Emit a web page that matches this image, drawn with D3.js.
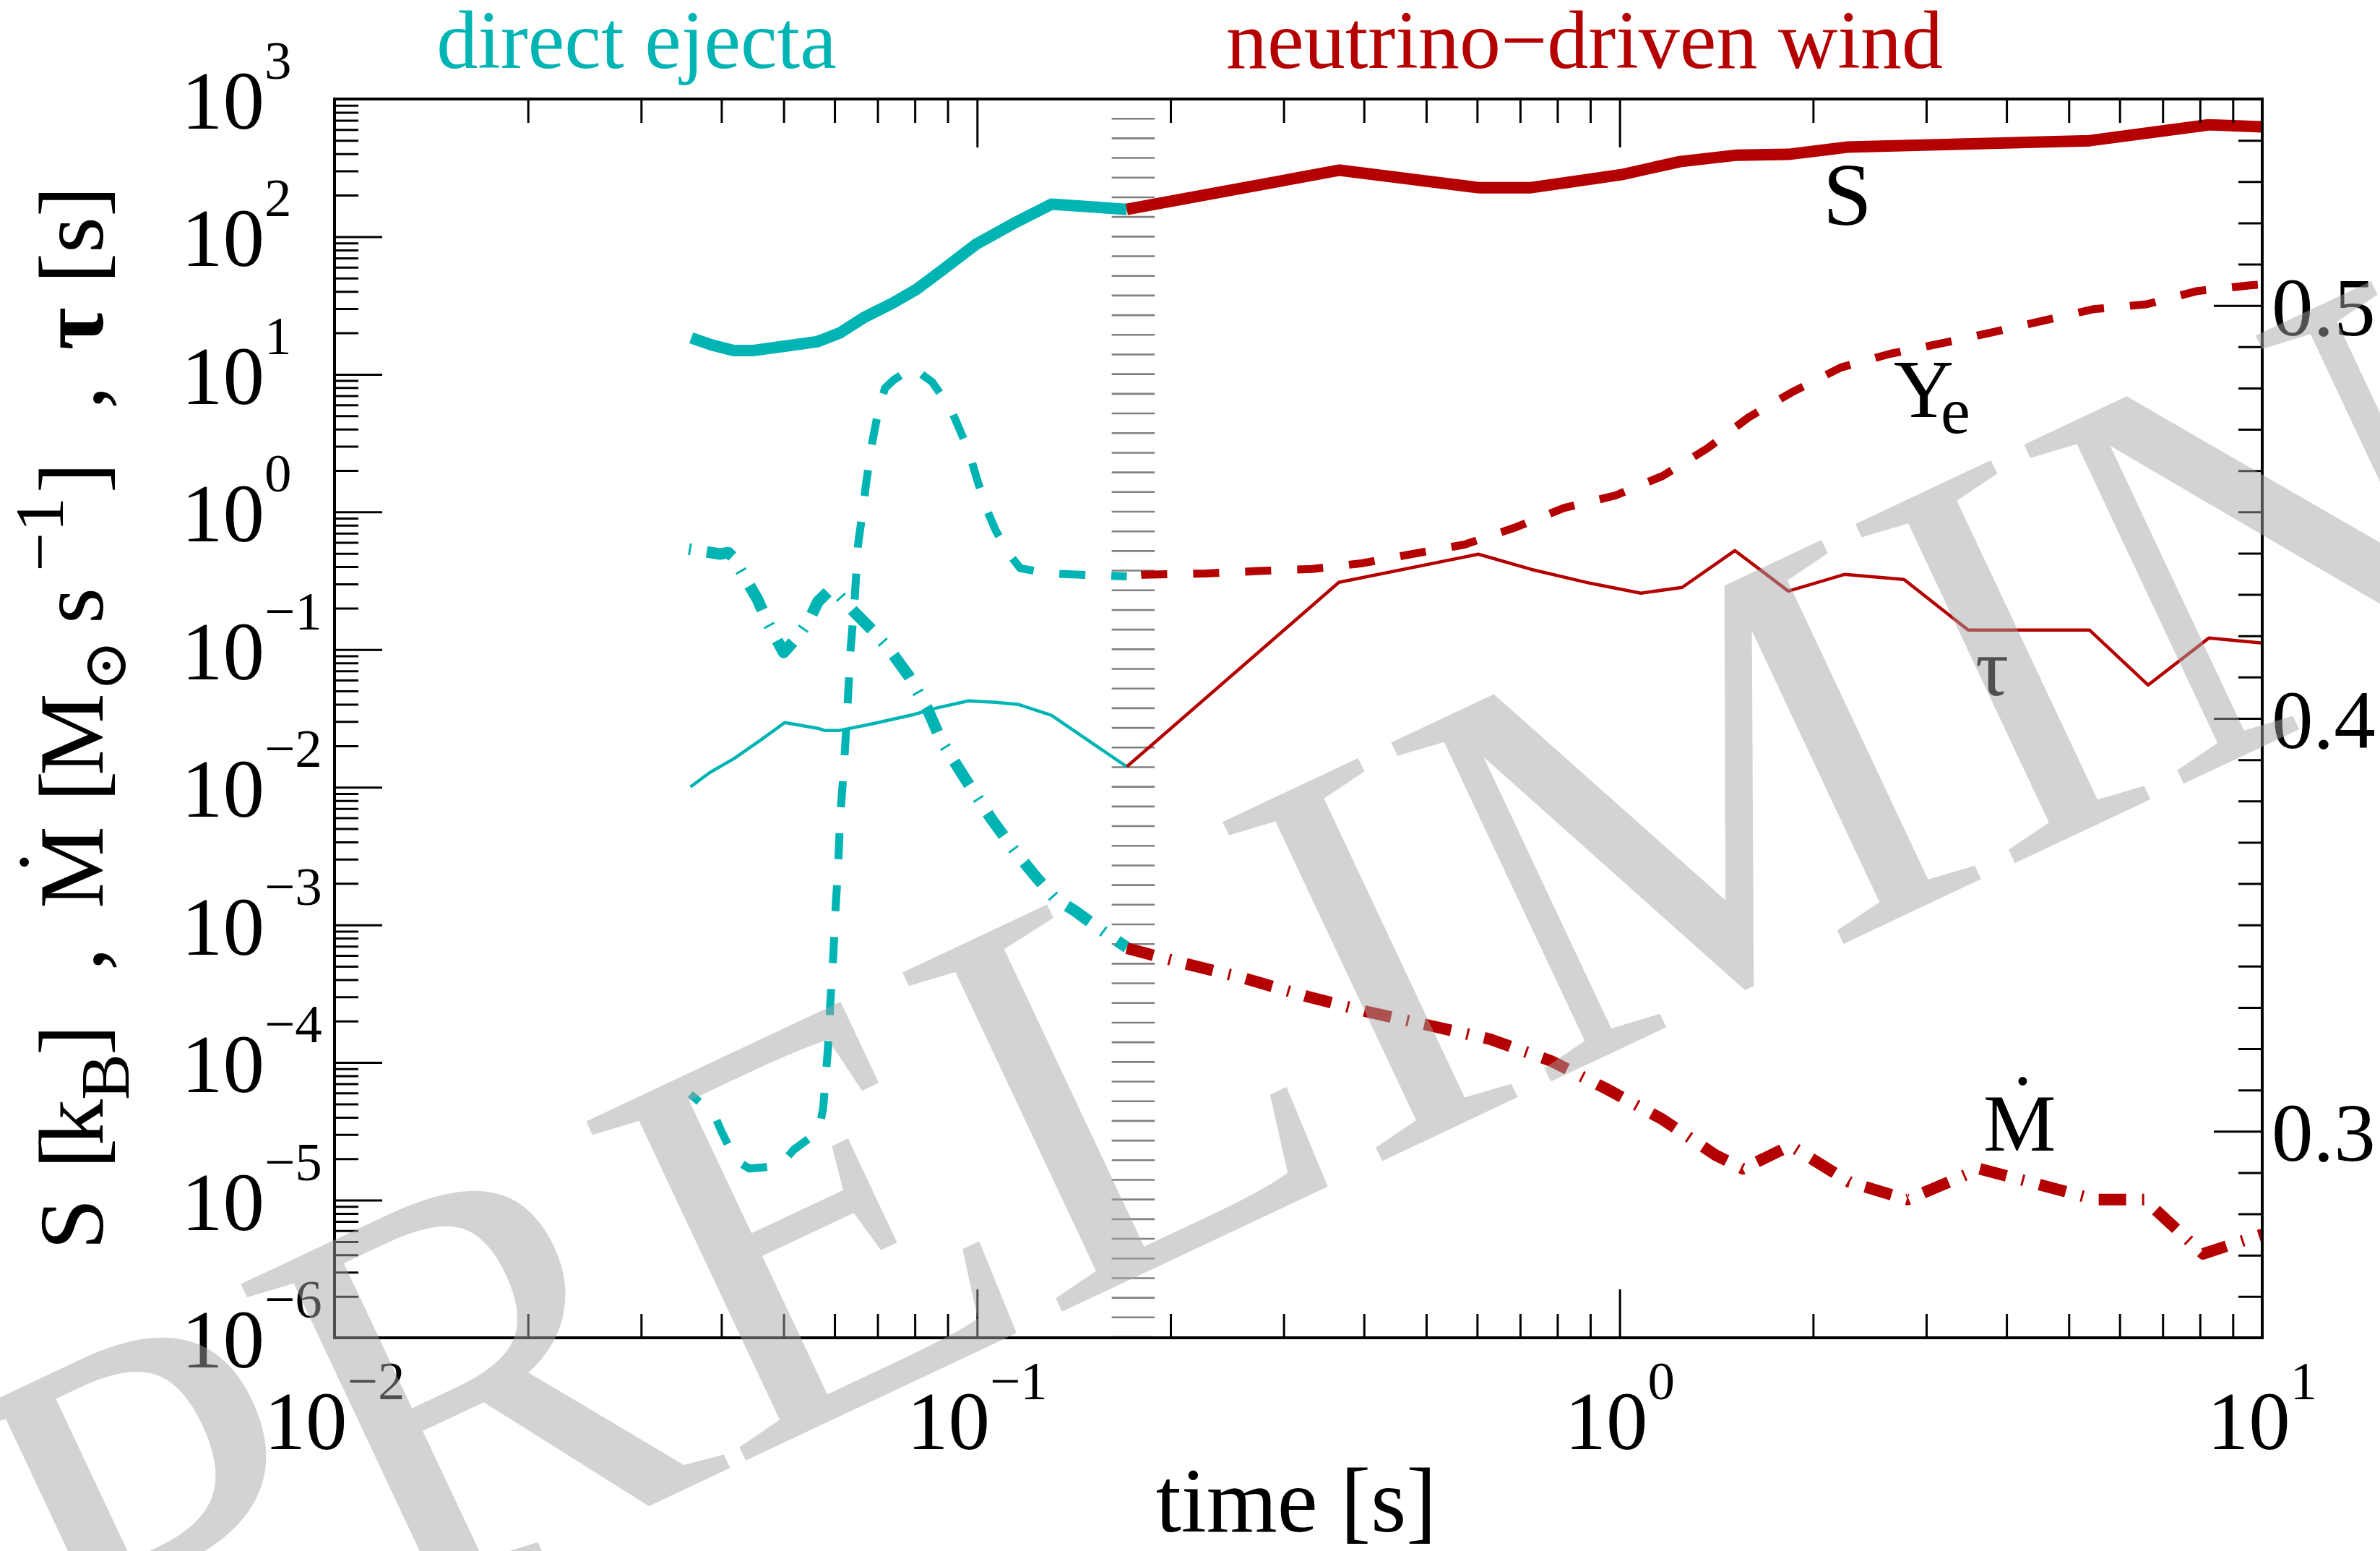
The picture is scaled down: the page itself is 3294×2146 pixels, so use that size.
<!DOCTYPE html>
<html>
<head>
<meta charset="utf-8">
<script src="https://cdn.jsdelivr.net/npm/d3@7"></script>
<style>
  html, body { margin: 0; padding: 0; background: #fff; }
  svg { display: block; }
  text { font-family: "Liberation Serif", "Times New Roman", "DejaVu Serif", serif; }
</style>
</head>
<body>
<svg id="chart" width="3294" height="2146"></svg>
<script>
// ---------------- data ----------------
// direct ejecta phase (t < ~0.17 s)
const ejectaTimeS   = [0.0359, 0.0387, 0.0418, 0.0449, 0.0497, 0.0565, 0.0612, 0.0669, 0.0738, 0.0804, 0.0889, 0.0994, 0.1137, 0.1305, 0.171];
const ejectaEntropy = [18.4, 16.3, 14.9, 14.9, 15.9, 17.3, 20.0, 26.1, 32.8, 41.3, 58.6, 87.4, 124, 172, 158];

const ejectaTimeYe  = [0.0358, 0.0390, 0.0400, 0.0421, 0.0442, 0.0493, 0.0518, 0.0567, 0.0576, 0.0586, 0.0591, 0.0597, 0.0602, 0.0608, 0.0612, 0.0621, 0.0629, 0.0635, 0.0645, 0.0652, 0.0662, 0.0672, 0.0685, 0.0703, 0.0719, 0.0742, 0.0796, 0.0825, 0.0851, 0.0910, 0.0969, 0.1004, 0.1036, 0.1069, 0.1123, 0.1167, 0.1288, 0.1551, 0.171];
const ejectaYe      = [0.309, 0.304, 0.300, 0.293, 0.291, 0.2916, 0.2955, 0.300, 0.3056, 0.320, 0.331, 0.342, 0.3535, 0.3647, 0.3757, 0.389, 0.404, 0.416, 0.429, 0.4415, 0.449, 0.457, 0.466, 0.475, 0.480, 0.482, 0.485, 0.483, 0.4815, 0.475, 0.465, 0.457, 0.4505, 0.4455, 0.4397, 0.4364, 0.4351, 0.4346, 0.4344];

const ejectaTimeTau = [0.0358, 0.0384, 0.0418, 0.0461, 0.0502, 0.0565, 0.0580, 0.0609, 0.0685, 0.0796, 0.0862, 0.0969, 0.1069, 0.1161, 0.1305, 0.171];
const ejectaTau     = [0.01005, 0.0128, 0.0161, 0.0221, 0.0295, 0.0268, 0.0258, 0.0258, 0.0288, 0.0337, 0.0375, 0.0424, 0.0414, 0.0399, 0.0333, 0.0141];

const ejectaTimeMdot = [0.0356, 0.0398, 0.0410, 0.0418, 0.0431, 0.0455, 0.0473, 0.0500, 0.0526, 0.0548, 0.0565, 0.0591, 0.0609, 0.0642, 0.0685, 0.0732, 0.0782, 0.0836, 0.0878, 0.0954, 0.1052, 0.1143, 0.1242, 0.1325, 0.1418, 0.1589, 0.171];
const ejectaMdot     = [0.537, 0.494, 0.506, 0.4645, 0.360, 0.233, 0.1545, 0.0953, 0.1243, 0.1642, 0.222, 0.273, 0.251, 0.190, 0.140, 0.0988, 0.0647, 0.0375, 0.0221, 0.0119, 0.0059, 0.00347, 0.00216, 0.00154, 0.00127, 0.000863, 0.000686];

// neutrino-driven wind phase (t > ~0.17 s)
const windTimeS   = [0.171, 0.3665, 0.6026, 0.7279, 1.006, 1.241, 1.522, 1.830, 2.257, 5.387, 8.26, 10];
const windEntropy = [158, 304, 227, 227, 282, 351, 391, 396, 447, 498, 650, 627];

const windTimeYe = [0.171, 0.1813, 0.2270, 0.2744, 0.3322, 0.3982, 0.4786, 0.5737, 0.6896, 0.8203, 0.9856, 1.166, 1.369, 1.587, 1.854, 2.211, 2.636, 3.185, 3.798, 4.553, 5.458, 6.610, 7.925, 9.572, 10];
const windYe     = [0.4344, 0.4348, 0.4351, 0.4357, 0.4362, 0.4376, 0.4399, 0.4421, 0.4463, 0.4510, 0.4540, 0.4587, 0.4654, 0.4729, 0.4790, 0.4850, 0.4883, 0.4909, 0.4935, 0.4963, 0.4991, 0.5003, 0.5035, 0.5049, 0.5051];

const windTimeTau = [0.171, 0.3656, 0.6026, 0.7279, 0.8979, 1.079, 1.251, 1.511, 1.830, 2.240, 2.770, 3.487, 5.387, 6.645, 8.26, 10];
const windTau     = [0.0141, 0.308, 0.4935, 0.383, 0.304, 0.257, 0.283, 0.524, 0.266, 0.352, 0.323, 0.1386, 0.1386, 0.0553, 0.1213, 0.1115];

const windTimeMdot = [0.171, 0.2101, 0.2611, 0.3271, 0.4045, 0.5053, 0.6281, 0.7807, 0.9507, 1.166, 1.409, 1.554, 1.844, 2.280, 2.806, 3.635, 5.501, 6.558, 8.090, 10];
const windMdot     = [6.77e-4, 5.25e-4, 4.08e-4, 3.01e-4, 2.34e-4, 1.86e-4, 1.48e-4, 1.03e-4, 6.49e-5, 3.86e-5, 2.13e-5, 1.69e-5, 2.49e-5, 1.35e-5, 1.01e-5, 1.69e-5, 1.01e-5, 1.01e-5, 4.07e-6, 5.64e-6];

// transition window between the two phases (s)
const transitionBand = [0.162, 0.189];

// tick labels
const xTickExponents = [-2, -1, 0, 1];
const yTickExponents = [-6, -5, -4, -3, -2, -1, 0, 1, 2, 3];
const yeTickValues = [0.3, 0.4, 0.5];
const yeTickLabels = ["0.3", "0.4", "0.5"];

// ---------------- layout ----------------
const W = 3294, H = 2146;
const frame = { left: 463, right: 3131, top: 137, bottom: 1851 };
const cyan = "#00b4b4", red = "#b40000";

const x  = d3.scaleLog().domain([0.01, 10]).range([frame.left, frame.right]);
const yL = d3.scaleLog().domain([1e-6, 1e3]).range([frame.bottom, frame.top]);
const yR = d3.scaleLinear().domain([0.25, 0.55]).range([frame.bottom, frame.top]);

const svg = d3.select("#chart");
svg.append("rect").attr("width", W).attr("height", H).attr("fill", "#fff");

// ---------------- transition ladder ----------------
const nRungs = 64;
const rungY = d3.range(nRungs).map(k => frame.bottom - 1 - k * (frame.bottom - frame.top - 1) / (nRungs - 1));
svg.append("g").selectAll("line").data(rungY).join("line")
  .attr("x1", x(transitionBand[0])).attr("x2", x(transitionBand[1]))
  .attr("y1", d => d).attr("y2", d => d)
  .attr("stroke", "#808080").attr("stroke-width", 2.6);

// ---------------- curves ----------------
const zip = (a, b) => a.map((t, i) => [t, b[i]]);
const series = [
  { t: ejectaTimeS,    v: ejectaEntropy, y: yL, color: cyan, width: 16, dash: null },
  { t: windTimeS,      v: windEntropy,   y: yL, color: red,  width: 16, dash: null },
  { t: ejectaTimeTau,  v: ejectaTau,     y: yL, color: cyan, width: 4.5, dash: null },
  { t: windTimeTau,    v: windTau,       y: yL, color: red,  width: 4.5, dash: null },
  { t: ejectaTimeYe,   v: ejectaYe,      y: yR, color: cyan, width: 11, dash: "36,36", offset: 20 },
  { t: windTimeYe,     v: windYe,        y: yR, color: red,  width: 11, dash: "36,36", offset: 52 },
  { t: ejectaTimeMdot, v: ejectaMdot,    y: yL, color: cyan, width: 16, dash: "38,22,3,22", offset: 60 },
  { t: windTimeMdot,   v: windMdot,      y: yL, color: red,  width: 16, dash: "38,22,3,22", offset: 0 }
];
const gCurves = svg.append("g").attr("fill", "none");
series.forEach(s => {
  const line = d3.line().x(d => x(d[0])).y(d => s.y(d[1]));
  gCurves.append("path")
    .attr("d", line(zip(s.t, s.v)))
    .attr("stroke", s.color)
    .attr("stroke-width", s.width)
    .attr("stroke-linejoin", "round")
    .attr("stroke-linecap", "butt")
    .attr("stroke-dasharray", s.dash)
    .attr("stroke-dashoffset", s.offset || 0);
});

// ---------------- ticks ----------------
const isDecade = v => Math.abs(Math.log10(v) - Math.round(Math.log10(v))) < 1e-6;
const xMajor = x.ticks().filter(isDecade), xMinor = x.ticks().filter(v => !isDecade(v));
const yMajor = yL.ticks().filter(isDecade), yMinor = yL.ticks().filter(v => !isDecade(v));
const yeAll = d3.range(26, 55).map(k => k / 100);
const yeMinor = yeAll.filter(v => !yeTickValues.some(m => Math.abs(m - v) < 1e-6));

function ticks(axisFn, scale, values, size, tx, ty) {
  svg.append("g").attr("transform", `translate(${tx},${ty})`)
    .call(axisFn(scale).tickValues(values).tickSizeInner(size).tickSizeOuter(0).tickFormat(""))
    .call(g => g.select(".domain").remove())
    .call(g => g.selectAll("line").attr("stroke", "#000").attr("stroke-width", 3));
}
ticks(d3.axisBottom, x, xMajor, -67, 0, frame.bottom);
ticks(d3.axisBottom, x, xMinor, -33, 0, frame.bottom);
ticks(d3.axisTop, x, xMajor, -67, 0, frame.top);
ticks(d3.axisTop, x, xMinor, -33, 0, frame.top);
ticks(d3.axisLeft, yL, yMajor, -66, frame.left, 0);
ticks(d3.axisLeft, yL, yMinor, -33, frame.left, 0);
ticks(d3.axisRight, yR, yeTickValues, -67, frame.right, 0);
ticks(d3.axisRight, yR, yeMinor, -33, frame.right, 0);

svg.append("rect")
  .attr("x", frame.left).attr("y", frame.top)
  .attr("width", frame.right - frame.left).attr("height", frame.bottom - frame.top)
  .attr("fill", "none").attr("stroke", "#000").attr("stroke-width", 4);

// ---------------- tick labels ----------------
const expText = e => (e < 0 ? "\u2212" + (-e) : String(e));

yTickExponents.forEach(e => {
  const t = svg.append("text").attr("x", 251).attr("y", yL(Math.pow(10, e)) + 41).attr("font-size", 115);
  t.append("tspan").text("10");
  t.append("tspan").attr("font-size", 75).attr("dy", -69).text(expText(e));
});

xTickExponents.forEach(e => {
  const t = svg.append("text").attr("x", x(Math.pow(10, e))).attr("y", 2005)
    .attr("font-size", 115).attr("text-anchor", "middle");
  t.append("tspan").text("10");
  t.append("tspan").attr("font-size", 75).attr("dy", -69).text(expText(e));
});

yeTickValues.forEach((v, i) => {
  svg.append("text").attr("x", 3144).attr("y", yR(v) + 41).attr("font-size", 115).text(yeTickLabels[i]);
});

// ---------------- titles ----------------
svg.append("text").attr("x", 1794).attr("y", 2119).attr("font-size", 126)
  .attr("text-anchor", "middle").text("time [s]");

svg.append("text").attr("x", 881).attr("y", 94).attr("font-size", 114)
  .attr("text-anchor", "middle").attr("fill", cyan).text("direct ejecta");
svg.append("text").attr("x", 2193).attr("y", 94).attr("font-size", 114)
  .attr("text-anchor", "middle").attr("fill", red).text("neutrino\u2212driven wind");

// rotated y-axis title, pieces laid out along the text direction
const yTitle = svg.append("g").attr("transform", "translate(142,1723) rotate(-90)")
  .attr("text-anchor", "middle");
const titlePieces = [
  { s: "S", at: 29 },
  { s: "[", at: 127 },
  { s: "k", at: 170 },
  { s: "B", at: 233, dy: 36, size: 96 },
  { s: "]", at: 284 },
  { s: ",", at: 396 },
  { s: "[", at: 635 },
  { s: "M", at: 707 },
  { s: "\u2299", at: 802, dy: 32, size: 85 },
  { s: "s", at: 885 },
  { s: "\u2212", at: 959, dy: -55, size: 96 },
  { s: "1", at: 1011, dy: -55, size: 96 },
  { s: "]", at: 1062 },
  { s: ",", at: 1173 },
  { s: "\u03c4", at: 1268, weight: "bold" },
  { s: "[s]", at: 1398 }
];
titlePieces.forEach(p => {
  yTitle.append("text").attr("x", p.at).attr("y", p.dy || 0)
    .attr("font-size", p.size || 128).attr("font-weight", p.weight || "normal").text(p.s);
});
// M with an overdot (mass-loss rate) in the title
const mdotTitle = yTitle.append("text").attr("x", 523 - 0.889 * 128 / 2).attr("y", 0)
  .attr("text-anchor", "start").attr("font-size", 128);
mdotTitle.append("tspan").text("M");
mdotTitle.append("tspan").attr("font-size", 120).attr("dx", -70).attr("dy", -35).text("\u02d9");

// ---------------- curve labels ----------------
svg.append("text").attr("x", 2557).attr("y", 311).attr("font-size", 122)
  .attr("text-anchor", "middle").text("S");
const yeLabel = svg.append("text").attr("x", 2621).attr("y", 577).attr("font-size", 115);
yeLabel.append("tspan").text("Y");
yeLabel.append("tspan").attr("font-size", 92).attr("dx", -18).attr("dy", 22).text("e");
svg.append("text").attr("x", 2757).attr("y", 962).attr("font-size", 115)
  .attr("text-anchor", "middle").text("\u03c4");
const mdotLabel = svg.append("text").attr("x", 2745).attr("y", 1592).attr("font-size", 113);
mdotLabel.append("tspan").text("M");
mdotLabel.append("tspan").attr("dx", -65).attr("dy", -27).text("\u02d9");

// ---------------- watermark ----------------
svg.append("text")
  .attr("transform", "translate(135,2443) rotate(-25.2)")
  .attr("font-size", 792)
  .attr("fill", "rgb(165,165,165)")
  .attr("fill-opacity", 0.486)
  .text("PRELIMINARY");
</script>
</body>
</html>
